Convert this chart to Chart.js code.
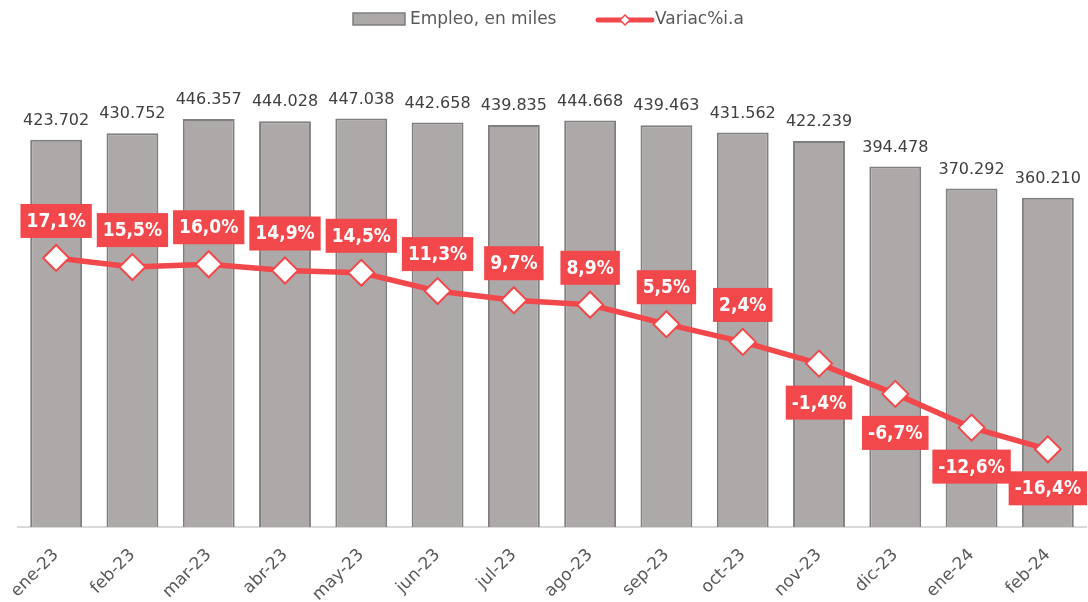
<!DOCTYPE html>
<html>
<head>
<meta charset="utf-8">
<script src="https://cdn.jsdelivr.net/npm/chart.js@4"></script>
<style>
  html, body { margin: 0; padding: 0; background: #fff; }
  #wrap { width: 1088px; height: 602px; }
</style>
</head>
<body>
<div id="wrap"><canvas id="chart"></canvas></div>
<script>
const meses = ['ene-23', 'feb-23', 'mar-23', 'abr-23', 'may-23', 'jun-23', 'jul-23',
  'ago-23', 'sep-23', 'oct-23', 'nov-23', 'dic-23', 'ene-24', 'feb-24'];
const empleo = [423702, 430752, 446357, 444028, 447038, 442658, 439835,
  444668, 439463, 431562, 422239, 394478, 370292, 360210];
const variacion = [17.1, 15.5, 16.0, 14.9, 14.5, 11.3, 9.7, 8.9, 5.5, 2.4, -1.4, -6.7, -12.6, -16.4];

const ROJO = '#F2474B';
const GRIS = '#ADA9A8';
const FUENTE = '"DejaVu Sans", sans-serif';

function fmtMiles(v) {
  return v.toString().replace(/\B(?=(\d{3})+(?!\d))/g, '.');
}
function fmtPct(v) {
  return v.toFixed(1).replace('.', ',') + '%';
}

// etiquetas de datos y leyenda dibujadas a mano
const etiquetas = {
  id: 'etiquetas',
  afterDatasetsDraw(chart) {
    const ctx = chart.ctx;
    const barras = chart.getDatasetMeta(0).data;
    const puntos = chart.getDatasetMeta(1).data;
    ctx.save();
    ctx.font = '16px ' + FUENTE;
    ctx.fillStyle = '#404040';
    ctx.textAlign = 'center';
    ctx.textBaseline = 'bottom';
    barras.forEach((b, i) => ctx.fillText(fmtMiles(empleo[i]), b.x, b.y - 11));

    ctx.font = 'bold 19px "DejaVu Sans Condensed", ' + FUENTE;
    ctx.textBaseline = 'middle';
    puntos.forEach((p, i) => {
      const txt = fmtPct(variacion[i]);
      const w = ctx.measureText(txt).width + 12;
      const h = 34;
      const cy = variacion[i] >= 0 ? p.y - 37 : p.y + 39;
      ctx.fillStyle = ROJO;
      ctx.fillRect(p.x - w / 2, cy - h / 2, w, h);
      ctx.fillStyle = '#fff';
      ctx.fillText(txt, p.x, cy + 1);
    });

    // leyenda
    ctx.font = '17px ' + FUENTE;
    ctx.textAlign = 'left';
    ctx.fillStyle = GRIS;
    ctx.strokeStyle = '#7F7F7F';
    ctx.lineWidth = 1.5;
    ctx.fillRect(353, 13, 52, 12);
    ctx.strokeRect(353, 13, 52, 12);
    ctx.fillStyle = '#595959';
    ctx.fillText('Empleo, en miles', 410, 20);

    ctx.strokeStyle = ROJO;
    ctx.lineWidth = 5;
    ctx.lineCap = 'round';
    ctx.beginPath();
    ctx.moveTo(598, 20);
    ctx.lineTo(652, 20);
    ctx.stroke();
    ctx.fillStyle = '#fff';
    ctx.lineWidth = 1.5;
    ctx.beginPath();
    ctx.moveTo(625, 15);
    ctx.lineTo(630, 20);
    ctx.lineTo(625, 25);
    ctx.lineTo(620, 20);
    ctx.closePath();
    ctx.fill();
    ctx.stroke();
    ctx.fillStyle = '#595959';
    ctx.fillText('Variac%i.a', 655, 20);
    ctx.restore();
  }
};

new Chart(document.getElementById('chart'), {
  type: 'bar',
  data: {
    labels: meses,
    datasets: [{
      type: 'bar',
      label: 'Empleo, en miles',
      data: empleo,
      yAxisID: 'y',
      backgroundColor: GRIS,
      borderColor: '#7F7F7F',
      borderWidth: { top: 2, left: 2, right: 2, bottom: 0 },
      borderSkipped: 'bottom',
      categoryPercentage: 1,
      barPercentage: 0.68,
      order: 1
    }, {
      type: 'line',
      label: 'Variac%i.a',
      data: variacion,
      yAxisID: 'y2',
      borderColor: ROJO,
      borderWidth: 5.5,
      pointStyle: 'rectRot',
      pointRadius: 13,
      pointHoverRadius: 13,
      pointBackgroundColor: '#fff',
      pointBorderColor: ROJO,
      pointBorderWidth: 2,
      tension: 0,
      order: 0
    }]
  },
  options: {
    responsive: true,
    maintainAspectRatio: false,
    animation: false,
    events: [],
    layout: { autoPadding: false, padding: { top: 70, left: 18, right: 2, bottom: 0 } },
    plugins: {
      legend: { display: false },
      tooltip: { enabled: false }
    },
    scales: {
      x: {
        grid: { display: false },
        border: { display: true, color: '#D9D9D9', width: 2 },
        ticks: {
          color: '#595959',
          font: { family: FUENTE, size: 17 },
          maxRotation: 45,
          minRotation: 45,
          padding: 10
        },
        afterFit(scale) { scale.height = 75; }
      },
      y: {
        display: false,
        min: 0,
        max: 500000
      },
      y2: {
        display: false,
        position: 'right',
        min: -30,
        max: 50
      }
    }
  },
  plugins: [etiquetas]
});
</script>
</body>
</html>
